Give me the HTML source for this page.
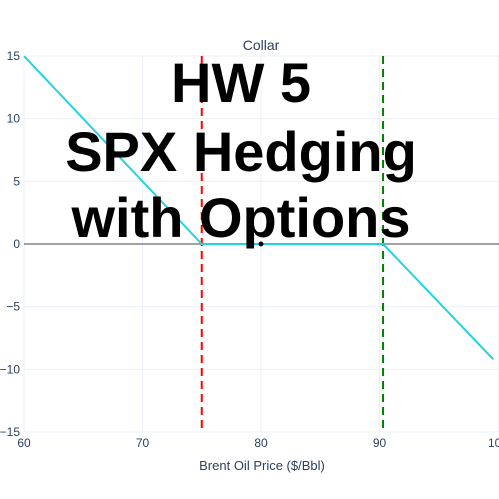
<!DOCTYPE html>
<html><head><meta charset="utf-8"><style>
body{margin:0;background:#fff;}
svg{display:block;font-family:"Liberation Sans",Arial,sans-serif;}
</style></head><body>
<svg id="chart" width="499" height="499">
<g id="grid"></g><g id="marks"></g><g id="labels"></g>
<text x="261" y="50" text-anchor="middle" font-size="14" fill="#2a3f5f">Collar</text>
<text x="262" y="470" text-anchor="middle" font-size="13" fill="#2a3f5f">Brent Oil Price ($/Bbl)</text>
<g font-weight="bold" font-size="56" text-anchor="middle" fill="#000">
<text x="241" y="102">HW 5</text>
<text x="241" y="171">SPX Hedging</text>
<text x="241" y="237">with Options</text>
</g>
</svg>
<script>
const xTicks=[60,70,80,90,100];
const yTicks=[15,10,5,0,-5,-10,-15];
const payoffX=[60,75,90.3,99.6];
const payoffY=[15,0,0,-9.2];
const strikes=[75,90.3];
const pointX=[80];const pointY=[0];
const X=v=>24+(v-60)*11.85;
const Y=v=>244-v*12.53;
const NS="http://www.w3.org/2000/svg";
const g=document.getElementById('grid'),m=document.getElementById('marks'),l=document.getElementById('labels');
function mk(tag,attrs,parent){const e=document.createElementNS(NS,tag);for(const k in attrs)e.setAttribute(k,attrs[k]);parent.appendChild(e);return e;}
xTicks.forEach(t=>{
 const ln=mk('line',{x1:X(t),x2:X(t),y1:Y(15),y2:Y(-15),stroke:'#ebf0f8','stroke-width':1},g);
 
 
 const tx=mk('text',{x:X(t),y:447,'text-anchor':'middle','font-size':12,fill:'#2a3f5f'},l);
 tx.textContent=t;
 
 
});
yTicks.forEach(t=>{
 if(t!==0){const ln=mk('line',{x1:X(60),x2:499,y1:Y(t),y2:Y(t),stroke:'#ebf0f8','stroke-width':1},g);
 
 }
 const tx=mk('text',{x:20,y:Y(t)+4,'text-anchor':'end','font-size':12,fill:'#2a3f5f'},l);
 tx.textContent=t<0?'\u2212'+(-t):t;
 
 
});
const zl=mk('line',{x1:X(60),x2:499,y1:Y(0),y2:Y(0),stroke:'#444','stroke-width':1},g);


const cols=['#ff0000','#008000'];
strikes.forEach((s,i)=>{
 const ln=mk('line',{x1:X(s),x2:X(s),y1:Y(15),y2:Y(-15),stroke:cols[i],'stroke-width':2,'stroke-dasharray':'8,5'},m);
 
 
});
const p=mk('polyline',{points:payoffX.map((x,i)=>X(x)+','+Y(payoffY[i])).join(' '),fill:'none',stroke:'#22d3e6','stroke-width':2},m);


pointX.forEach((x,i)=>{
 const c=mk('circle',{cx:X(x),cy:Y(pointY[i]),r:2.5,fill:'#000'},m);
 
 
});
</script>
</body></html>
